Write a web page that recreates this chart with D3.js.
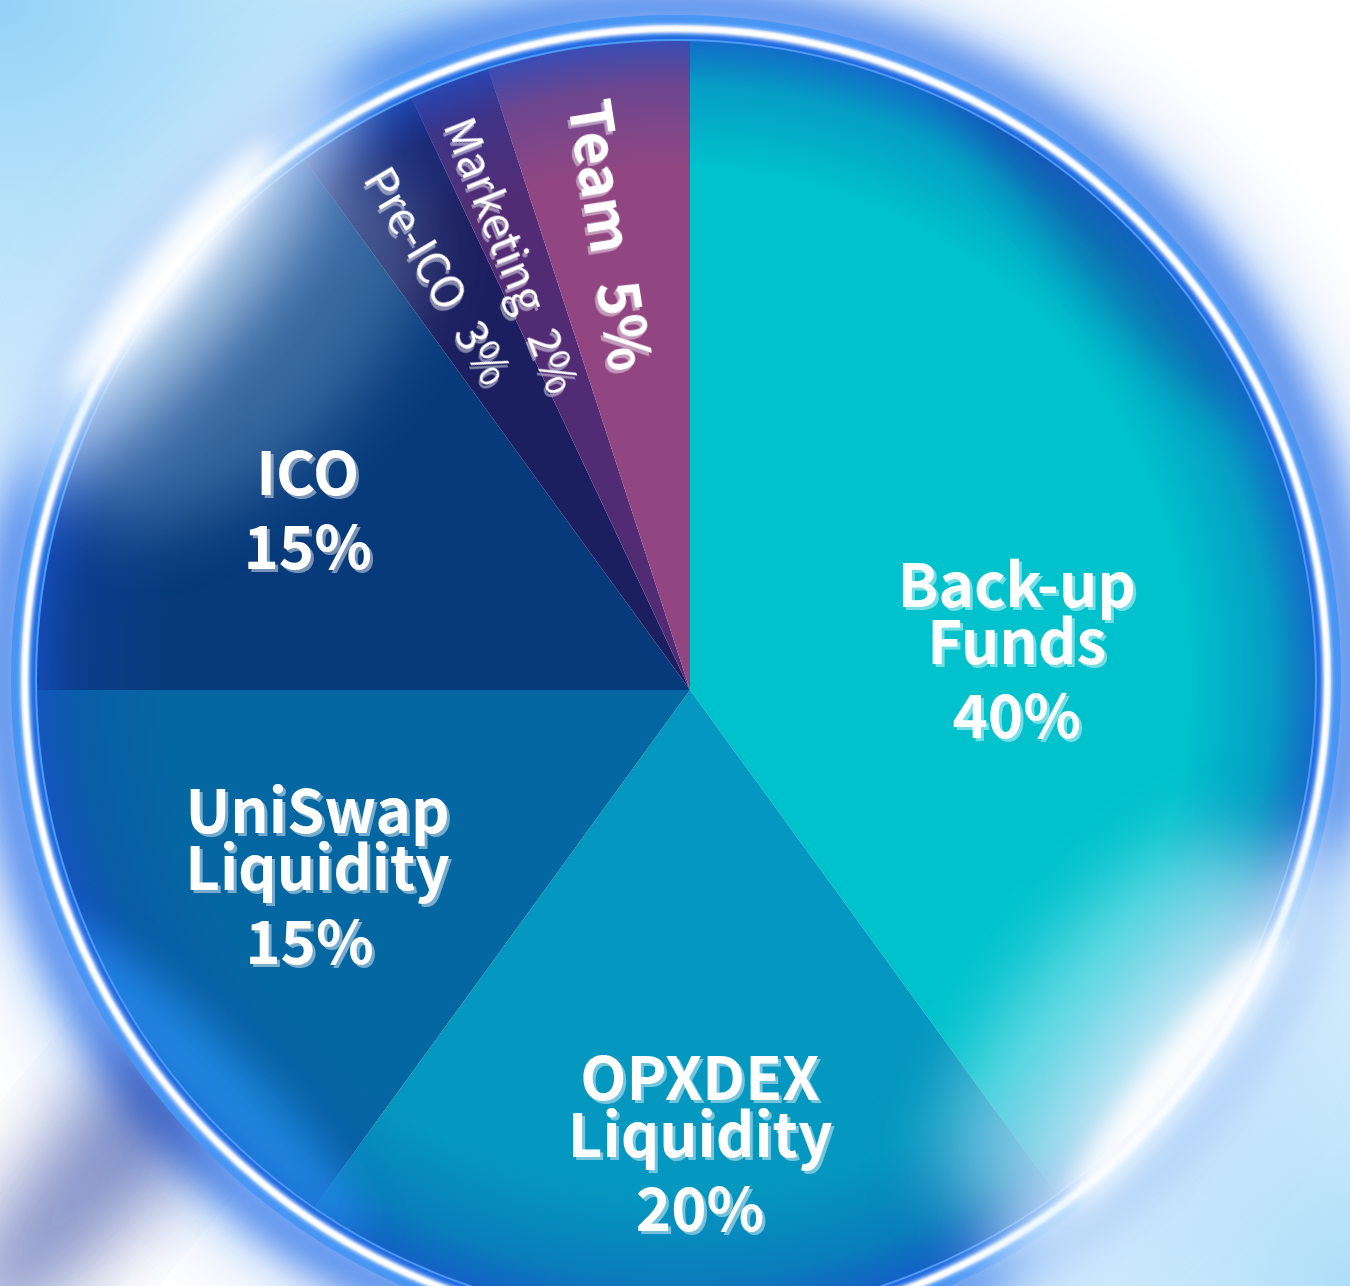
<!DOCTYPE html>
<html>
<head>
<meta charset="utf-8">
<script src="https://cdn.jsdelivr.net/npm/d3@7"></script>
<style>
  body { margin:0; background:#fff; overflow:hidden; }
  svg { display:block; }
</style>
</head>
<body>
<svg></svg>
<script>

// data
var names = ["Back-up Funds", "OPXDEX Liquidity", "UniSwap Liquidity", "ICO", "Pre-ICO", "Marketing", "Team"];
var shares = [40, 20, 15, 15, 3, 2, 5];
var sliceColors = ["#00c2cc", "#0497bf", "#0567a2", "#063a7a", "#1b1e5f", "#512c74", "#914681"];

// label layout (polar: degrees clockwise from 12 o'clock, radius)
var bigLabelPos = [[75.8, 337], [178.6, 410], [249, 399], [297, 429]];
var smallLabelRadius = [485, 470, 462];

var screen = {width:1350, height:1286};
var pieC = [690, 690];     // where the slices meet
var ringC = [676, 680];    // centre of the glass ring
var ringR = 651;
var pieR = 640;

var svg = d3.select("svg").attr("width", screen.width).attr("height", screen.height);
var defs = svg.append("defs");

function blur(id, sd) {
  defs.append("filter").attr("id", id)
    .attr("x", "-50%").attr("y", "-50%").attr("width", "200%").attr("height", "200%")
    .append("feGaussianBlur").attr("stdDeviation", sd);
}
blur("b1", 1.2);
blur("b2", 2);
blur("b12", 12);
blur("b20", 20);
blur("b35", 35);

var shadow = defs.append("filter").attr("id", "tshadow")
  .attr("x", "-20%").attr("y", "-20%").attr("width", "140%").attr("height", "140%");
shadow.append("feDropShadow").attr("dx", 3).attr("dy", 3).attr("stdDeviation", 0.5)
  .attr("flood-color", "#ffffff").attr("flood-opacity", 0.45);

var vig = defs.append("radialGradient").attr("id", "vig")
  .attr("gradientUnits", "userSpaceOnUse")
  .attr("cx", 0).attr("cy", 0).attr("r", pieR);
[[0.8, "#1546b4", 0], [0.93, "#1546b4", 0.3], [1, "#1a50c8", 0.75]].forEach(function(s) {
  vig.append("stop").attr("offset", s[0]).attr("stop-color", s[1]).attr("stop-opacity", s[2]);
});

var corner = defs.append("radialGradient").attr("id", "corner");
corner.append("stop").attr("offset", 0).attr("stop-color", "#92d2f7");
corner.append("stop").attr("offset", 0.6).attr("stop-color", "#b9e3fa").attr("stop-opacity", 0.7);
corner.append("stop").attr("offset", 1).attr("stop-color", "#ffffff").attr("stop-opacity", 0);

// background
svg.append("rect").attr("width", screen.width).attr("height", screen.height).attr("fill", "#ffffff");
svg.append("ellipse").attr("cx", 0).attr("cy", 0).attr("rx", 720).attr("ry", 640).attr("fill", "url(#corner)");
svg.append("ellipse").attr("cx", 1350).attr("cy", 1286).attr("rx", 560).attr("ry", 560)
  .attr("fill", "url(#corner)").attr("opacity", 0.75);

var halo = svg.append("g").attr("transform", "translate(" + ringC[0] + "," + ringC[1] + ")");
halo.append("circle").attr("r", ringR + 22)
  .attr("fill", "none").attr("stroke", "#2a6fe6").attr("stroke-width", 44)
  .attr("opacity", 0.9).attr("filter", "url(#b20)");
halo.append("circle").attr("r", ringR + 55)
  .attr("fill", "none").attr("stroke", "#4a8ff0").attr("stroke-width", 60)
  .attr("opacity", 0.2).attr("filter", "url(#b35)");
// darker indigo shade outside, lower left
halo.append("ellipse").attr("cx", -560).attr("cy", 470).attr("rx", 230).attr("ry", 60)
  .attr("transform", "rotate(-50,-560,470)")
  .attr("fill", "#2b3f9e").attr("opacity", 0.55).attr("filter", "url(#b35)");

// pie, clipped to the inside of the ring
var clip = defs.append("clipPath").attr("id", "ringclip");
clip.append("circle").attr("cx", ringC[0] - pieC[0]).attr("cy", ringC[1] - pieC[1]).attr("r", pieR);

var plot = svg.append("g").attr("transform", "translate(" + pieC[0] + "," + pieC[1] + ")");
var pieG = plot.append("g").attr("clip-path", "url(#ringclip)");

var pie = d3.pie().sort(null).value(function(d) { return d; });
var arcs = pie(shares);
var arc = d3.arc().innerRadius(0).outerRadius(720);

pieG.selectAll("path.slice")
  .data(arcs)
  .enter()
  .append("path")
  .attr("class", "slice")
  .attr("d", arc)
  .attr("fill", function(d, i) { return sliceColors[i]; });

// rim shading and haze, in ring coordinates
var shade = pieG.append("g")
  .attr("transform", "translate(" + (ringC[0] - pieC[0]) + "," + (ringC[1] - pieC[1]) + ")");
shade.append("circle").attr("r", pieR).attr("fill", "url(#vig)");
shade.append("ellipse").attr("cx", -430).attr("cy", -330).attr("rx", 230).attr("ry", 110)
  .attr("transform", "rotate(-45,-430,-330)")
  .attr("fill", "#a9d2f0").attr("opacity", 0.3).attr("filter", "url(#b35)");
shade.append("ellipse").attr("cx", -470).attr("cy", 400).attr("rx", 220).attr("ry", 40)
  .attr("transform", "rotate(45,-470,400)")
  .attr("fill", "#2796f0").attr("opacity", 0.7).attr("filter", "url(#b20)");
shade.append("ellipse").attr("cx", 420).attr("cy", 340).attr("rx", 230).attr("ry", 80)
  .attr("transform", "rotate(-52,420,340)")
  .attr("fill", "#c5f0fa").attr("opacity", 0.5).attr("filter", "url(#b35)");
shade.append("ellipse").attr("cx", 400).attr("cy", -470).attr("rx", 260).attr("ry", 35)
  .attr("transform", "rotate(52,400,-470)")
  .attr("fill", "#123c9c").attr("opacity", 0.4).attr("filter", "url(#b20)");

// glass ring, drawn over the pie
var ring = svg.append("g").attr("transform", "translate(" + ringC[0] + "," + ringC[1] + ")");
ring.append("circle").attr("r", ringR - 6).attr("fill", "none")
  .attr("stroke", "#1f6be2").attr("stroke-width", 12);
ring.append("circle").attr("r", ringR - 11).attr("fill", "none")
  .attr("stroke", "#5aa6f6").attr("stroke-width", 2).attr("opacity", 0.8);
ring.append("circle").attr("r", ringR + 9).attr("fill", "none")
  .attr("stroke", "#4895f4").attr("stroke-width", 10);
ring.append("circle").attr("r", ringR).attr("fill", "none")
  .attr("stroke", "#ffffff").attr("stroke-width", 8).attr("filter", "url(#b2)");
ring.append("circle").attr("r", ringR).attr("fill", "none")
  .attr("stroke", "#ffffff").attr("stroke-width", 4).attr("filter", "url(#b1)");

// light glare where the ring catches the light
ring.append("ellipse").attr("cx", -505).attr("cy", -412).attr("rx", 270).attr("ry", 75)
  .attr("transform", "rotate(-51,-505,-412)")
  .attr("fill", "#dff2ff").attr("opacity", 0.8).attr("filter", "url(#b35)");
ring.append("ellipse").attr("cx", -505).attr("cy", -412).attr("rx", 160).attr("ry", 24)
  .attr("transform", "rotate(-51,-505,-412)")
  .attr("fill", "#ffffff").attr("opacity", 0.95).attr("filter", "url(#b12)");
ring.append("ellipse").attr("cx", 505).attr("cy", 392).attr("rx", 290).attr("ry", 80)
  .attr("transform", "rotate(-52,505,392)")
  .attr("fill", "#e3f5ff").attr("opacity", 0.8).attr("filter", "url(#b35)");
ring.append("ellipse").attr("cx", 500).attr("cy", 388).attr("rx", 170).attr("ry", 24)
  .attr("transform", "rotate(-52,500,388)")
  .attr("fill", "#ffffff").attr("opacity", 0.95).attr("filter", "url(#b12)");

// labels
var labels = svg.append("g").attr("transform", "translate(" + pieC[0] + "," + pieC[1] + ")");
var labelFont = "'Noto Sans CJK SC', 'Noto Sans', sans-serif";

bigLabelPos.forEach(function(p, i) {
  var pt = d3.pointRadial(p[0] * Math.PI / 180, p[1]);
  var lines = names[i].split(" ");
  lines.push(shares[i] + "%");
  var t = labels.append("text")
    .attr("class", "label")
    .attr("text-anchor", "middle")
    .attr("font-family", labelFont)
    .attr("font-size", 60)
    .attr("font-weight", 700)
    .attr("fill", "#ffffff")
    .attr("filter", "url(#tshadow)");
  lines.forEach(function(line, j) {
    var last = j === lines.length - 1;
    t.append("tspan")
      .attr("x", pt[0] - (last && i === 2 ? 8 : 0))
      .attr("y", pt[1] + (last ? (j - 1) * 57 + 74 : j * 57))
      .text(line);
  });
});

// small rotated labels along the thin slices
[4, 5, 6].forEach(function(i, k) {
  var a = (arcs[i].startAngle + arcs[i].endAngle) / 2;
  var pt = d3.pointRadial(a, smallLabelRadius[k]);
  var rot = a * 180 / Math.PI - 360 + 90;
  var bold = names[i] === "Team";
  labels.append("text")
    .attr("transform", "translate(" + pt[0] + "," + pt[1] + ") rotate(" + rot + ")")
    .attr("dy", "0.5em")
    .attr("text-anchor", "middle")
    .attr("font-family", labelFont)
    .attr("font-size", bold ? 58 : 44)
    .attr("font-weight", bold ? 700 : 400)
    .attr("fill", "#ffffff")
    .attr("filter", "url(#tshadow)")
    .text(names[i] + "\u2002" + shares[i] + "%");
});

</script>
</body>
</html>
